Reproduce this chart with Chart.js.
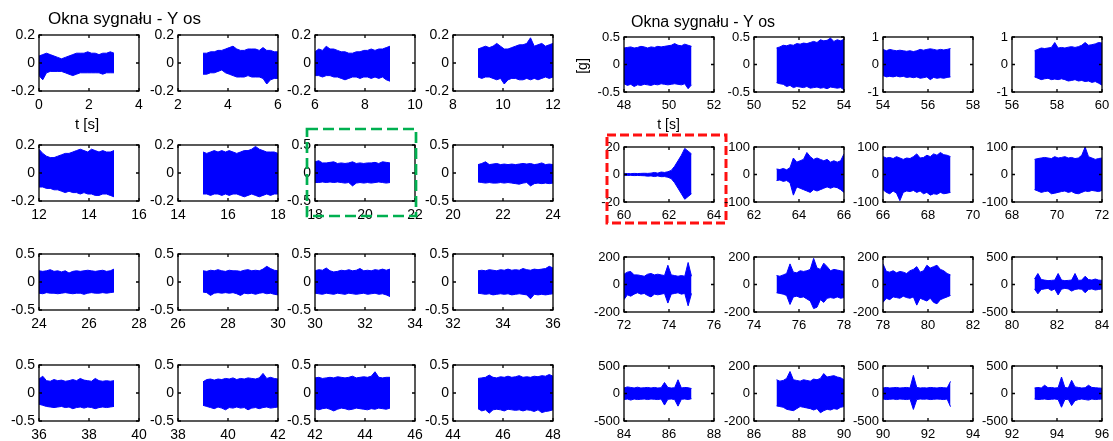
<!DOCTYPE html>
<html lang="pl">
<head>
<meta charset="UTF-8">
<title>Okna sygnału - Y os</title>
<script src="https://cdn.jsdelivr.net/npm/chart.js@4.4.1/dist/chart.umd.min.js"></script>
<style>
  body { margin: 0; background: #fff; }
  #wrap { position: relative; width: 1113px; height: 441px; overflow: hidden; }
  #wrap canvas { position: absolute; }
</style>
</head>
<body>
<div id="wrap"></div>
<script>
// sample times inside each 3 s window [s]
var offsets = [0, 0.15, 0.3, 0.45, 0.6, 0.75, 0.9, 1.05, 1.2, 1.35, 1.5, 1.65, 1.8, 1.95, 2.1, 2.25, 2.4, 2.55, 2.7, 2.85, 3.0];
var winStart = [0, 3, 6, 9, 12, 15, 18, 21, 24, 27, 30, 33, 36, 39, 42, 45,
                48, 51, 54, 57, 60, 63, 66, 69, 72, 75, 78, 81, 84, 87, 90, 93];
// x axis start of each window plot (axis spans 4 s)
var xMin = [0, 2, 6, 8, 12, 14, 18, 20, 24, 26, 30, 32, 36, 38, 42, 44,
            48, 50, 54, 56, 60, 62, 66, 68, 72, 74, 78, 80, 84, 86, 90, 92];
// symmetric y limits [g]
var yLim = [0.2, 0.2, 0.2, 0.2, 0.2, 0.2, 0.5, 0.5, 0.5, 0.5, 0.5, 0.5, 0.5, 0.5, 0.5, 0.5,
            0.5, 0.5, 1, 1, 20, 100, 100, 100, 200, 200, 200, 500, 500, 200, 500, 500];

// envelope of the signal (upper / lower)
var up0 = [0.05,0.06,0.07,0.06,0.05,0.04,0.03,0.04,0.05,0.06,0.07,0.07,0.07,0.08,0.07,0.07,0.06,0.07,0.07,0.08,0.07];
var lo0 = [-0.09,-0.12,-0.07,-0.06,-0.06,-0.06,-0.06,-0.07,-0.08,-0.09,-0.08,-0.07,-0.07,-0.07,-0.07,-0.07,-0.07,-0.08,-0.07,-0.07,-0.07];
var up1 = [0.07,0.07,0.08,0.08,0.09,0.09,0.1,0.11,0.12,0.1,0.09,0.09,0.1,0.1,0.1,0.09,0.11,0.09,0.09,0.08,0.08];
var lo1 = [-0.08,-0.08,-0.07,-0.07,-0.06,-0.05,-0.07,-0.08,-0.09,-0.1,-0.1,-0.1,-0.09,-0.1,-0.1,-0.1,-0.11,-0.15,-0.12,-0.11,-0.11];
var up2 = [0.08,0.1,0.09,0.12,0.1,0.1,0.09,0.08,0.08,0.07,0.07,0.08,0.08,0.09,0.09,0.1,0.09,0.1,0.1,0.11,0.12];
var lo2 = [-0.09,-0.09,-0.1,-0.09,-0.09,-0.1,-0.1,-0.11,-0.12,-0.11,-0.1,-0.1,-0.11,-0.1,-0.1,-0.11,-0.1,-0.11,-0.1,-0.12,-0.13];
var up3 = [0.1,0.11,0.12,0.11,0.12,0.14,0.12,0.1,0.1,0.11,0.12,0.13,0.13,0.14,0.18,0.12,0.13,0.14,0.12,0.13,0.14];
var lo3 = [-0.1,-0.11,-0.1,-0.1,-0.11,-0.12,-0.11,-0.15,-0.12,-0.11,-0.11,-0.12,-0.12,-0.11,-0.12,-0.11,-0.12,-0.11,-0.1,-0.11,-0.1];
var up4 = [0.17,0.14,0.12,0.11,0.11,0.12,0.13,0.14,0.14,0.15,0.16,0.17,0.16,0.15,0.17,0.16,0.15,0.16,0.15,0.15,0.16];
var lo4 = [-0.1,-0.1,-0.11,-0.11,-0.12,-0.12,-0.13,-0.14,-0.13,-0.14,-0.14,-0.15,-0.14,-0.15,-0.15,-0.16,-0.16,-0.15,-0.15,-0.16,-0.17];
var up5 = [0.15,0.14,0.15,0.16,0.15,0.16,0.15,0.16,0.15,0.14,0.15,0.16,0.16,0.17,0.19,0.17,0.16,0.15,0.15,0.15,0.14];
var lo5 = [-0.15,-0.15,-0.16,-0.15,-0.15,-0.16,-0.15,-0.16,-0.15,-0.15,-0.16,-0.17,-0.16,-0.15,-0.16,-0.17,-0.16,-0.15,-0.16,-0.15,-0.15];
var up6 = [0.2,0.22,0.18,0.18,0.19,0.2,0.17,0.18,0.17,0.18,0.2,0.17,0.18,0.17,0.18,0.18,0.19,0.17,0.2,0.19,0.18];
var lo6 = [-0.17,-0.17,-0.16,-0.17,-0.16,-0.17,-0.16,-0.17,-0.18,-0.17,-0.23,-0.18,-0.17,-0.18,-0.17,-0.18,-0.17,-0.16,-0.17,-0.18,-0.17];
var up7 = [0.15,0.17,0.2,0.15,0.16,0.17,0.15,0.16,0.15,0.16,0.15,0.16,0.17,0.16,0.17,0.15,0.16,0.18,0.15,0.16,0.15];
var lo7 = [-0.16,-0.17,-0.18,-0.17,-0.18,-0.18,-0.17,-0.18,-0.17,-0.18,-0.19,-0.2,-0.18,-0.17,-0.23,-0.19,-0.18,-0.19,-0.18,-0.19,-0.18];
var up8 = [0.2,0.19,0.2,0.22,0.19,0.2,0.18,0.2,0.16,0.19,0.2,0.19,0.2,0.21,0.2,0.19,0.2,0.21,0.19,0.2,0.23];
var lo8 = [-0.2,-0.21,-0.19,-0.2,-0.2,-0.21,-0.2,-0.19,-0.2,-0.21,-0.2,-0.2,-0.22,-0.2,-0.19,-0.2,-0.2,-0.19,-0.2,-0.19,-0.18];
var up9 = [0.2,0.19,0.21,0.2,0.22,0.2,0.19,0.21,0.2,0.2,0.19,0.21,0.22,0.2,0.21,0.2,0.23,0.28,0.24,0.21,0.2];
var lo9 = [-0.18,-0.19,-0.24,-0.2,-0.19,-0.2,-0.19,-0.2,-0.19,-0.21,-0.24,-0.2,-0.21,-0.2,-0.22,-0.2,-0.19,-0.21,-0.2,-0.22,-0.23];
var up10 = [0.2,0.22,0.21,0.25,0.2,0.18,0.19,0.21,0.2,0.22,0.2,0.21,0.24,0.2,0.21,0.2,0.22,0.21,0.23,0.21,0.23];
var lo10 = [-0.2,-0.21,-0.22,-0.2,-0.21,-0.22,-0.2,-0.21,-0.22,-0.2,-0.21,-0.22,-0.21,-0.2,-0.22,-0.21,-0.2,-0.22,-0.21,-0.23,-0.26];
var up11 = [0.2,0.21,0.2,0.22,0.21,0.2,0.22,0.21,0.23,0.21,0.22,0.21,0.24,0.22,0.21,0.23,0.22,0.23,0.24,0.28,0.25];
var lo11 = [-0.2,-0.21,-0.22,-0.21,-0.23,-0.22,-0.21,-0.22,-0.21,-0.23,-0.22,-0.21,-0.22,-0.23,-0.3,-0.22,-0.23,-0.22,-0.23,-0.22,-0.21];
var up12 = [0.25,0.3,0.22,0.21,0.24,0.22,0.23,0.21,0.22,0.24,0.22,0.26,0.23,0.22,0.21,0.26,0.22,0.21,0.22,0.21,0.22];
var lo12 = [-0.2,-0.22,-0.24,-0.25,-0.26,-0.25,-0.24,-0.26,-0.25,-0.28,-0.26,-0.25,-0.27,-0.25,-0.26,-0.28,-0.26,-0.25,-0.26,-0.25,-0.24];
var up13 = [0.2,0.24,0.25,0.23,0.25,0.24,0.26,0.25,0.27,0.24,0.26,0.25,0.27,0.26,0.25,0.27,0.35,0.26,0.28,0.26,0.25];
var lo13 = [-0.22,-0.24,-0.26,-0.28,-0.25,-0.27,-0.3,-0.26,-0.27,-0.25,-0.27,-0.26,-0.3,-0.27,-0.26,-0.28,-0.26,-0.25,-0.27,-0.26,-0.25];
var up14 = [0.27,0.28,0.26,0.27,0.28,0.27,0.29,0.28,0.27,0.28,0.3,0.27,0.28,0.29,0.28,0.3,0.38,0.28,0.27,0.28,0.28];
var lo14 = [-0.28,-0.3,-0.28,-0.27,-0.29,-0.32,-0.29,-0.27,-0.28,-0.3,-0.29,-0.27,-0.28,-0.29,-0.3,-0.28,-0.29,-0.27,-0.28,-0.29,-0.27];
var up15 = [0.26,0.27,0.28,0.32,0.28,0.27,0.29,0.28,0.3,0.28,0.29,0.31,0.28,0.29,0.28,0.3,0.29,0.31,0.3,0.33,0.3];
var lo15 = [-0.28,-0.32,-0.3,-0.36,-0.3,-0.29,-0.3,-0.32,-0.29,-0.3,-0.31,-0.3,-0.32,-0.3,-0.31,-0.33,-0.3,-0.35,-0.33,-0.32,-0.3];
var up16 = [0.3,0.31,0.32,0.3,0.31,0.33,0.32,0.3,0.32,0.31,0.33,0.32,0.33,0.34,0.35,0.38,0.35,0.34,0.37,0.35,0.33];
var lo16 = [-0.35,-0.38,-0.36,-0.4,-0.37,-0.38,-0.36,-0.37,-0.38,-0.36,-0.37,-0.35,-0.36,-0.37,-0.36,-0.35,-0.36,-0.37,-0.35,-0.44,-0.37];
var up17 = [0.3,0.32,0.35,0.34,0.36,0.35,0.38,0.37,0.39,0.38,0.4,0.42,0.4,0.45,0.43,0.44,0.48,0.42,0.45,0.43,0.46];
var lo17 = [-0.33,-0.35,-0.36,-0.4,-0.38,-0.42,-0.4,-0.41,-0.42,-0.4,-0.43,-0.42,-0.41,-0.43,-0.42,-0.44,-0.41,-0.42,-0.43,-0.42,-0.46];
var up18 = [0.55,0.5,0.55,0.52,0.5,0.52,0.5,0.48,0.5,0.47,0.5,0.55,0.52,0.55,0.57,0.55,0.52,0.55,0.53,0.55,0.58];
var lo18 = [-0.4,-0.45,-0.43,-0.45,-0.42,-0.45,-0.43,-0.47,-0.45,-0.48,-0.45,-0.5,-0.48,-0.45,-0.55,-0.47,-0.5,-0.48,-0.5,-0.47,-0.45];
var up19 = [0.5,0.55,0.6,0.58,0.6,0.62,0.8,0.6,0.62,0.6,0.63,0.65,0.62,0.65,0.7,0.8,0.7,0.72,0.75,0.8,0.78];
var lo19 = [-0.45,-0.5,-0.55,-0.52,-0.5,-0.55,-0.53,-0.55,-0.52,-0.55,-0.6,-0.58,-0.55,-0.6,-0.58,-0.62,-0.6,-0.65,-0.62,-0.68,-0.75];
var up20 = [0.6,0.7,0.6,0.8,0.7,0.8,0.9,0.8,1.0,1.5,1.0,1.8,1.5,2.0,3,6,10,14,19,17,15];
var lo20 = [-0.6,-0.7,-0.6,-0.8,-0.7,-0.8,-0.9,-1.2,-1.0,-1.5,-1.0,-1.6,-1.5,-2.0,-3,-6,-10,-14,-18,-16,-14];
var up21 = [20,18,22,17,25,60,45,50,55,80,65,55,60,55,50,55,45,50,45,50,75];
var lo21 = [-22,-20,-25,-22,-30,-75,-45,-50,-55,-60,-65,-55,-60,-55,-50,-45,-50,-45,-48,-55,-65];
var up22 = [65,60,62,58,65,60,55,60,58,65,75,60,62,70,65,75,70,80,72,70,65];
var lo22 = [-55,-65,-70,-60,-68,-95,-65,-60,-62,-58,-65,-60,-70,-65,-75,-70,-72,-65,-70,-68,-65];
var up23 = [55,58,60,62,60,58,65,60,62,65,60,62,58,60,70,100,65,60,55,58,60];
var lo23 = [-55,-60,-65,-62,-60,-70,-68,-65,-62,-60,-65,-62,-68,-70,-65,-60,-62,-58,-60,-62,-58];
var up24 = [75,90,95,70,70,65,60,75,80,70,75,70,65,140,70,65,60,65,60,160,60];
var lo24 = [-110,-75,-85,-70,-60,-70,-65,-80,-90,-70,-75,-70,-65,-135,-70,-65,-60,-70,-65,-155,-65];
var up25 = [65,60,70,80,150,90,85,100,95,100,110,190,120,110,155,130,100,110,105,100,95];
var lo25 = [-60,-65,-70,-80,-145,-90,-85,-95,-90,-105,-120,-175,-165,-110,-130,-100,-95,-100,-90,-100,-95];
var up26 = [150,95,90,100,85,95,90,80,100,110,130,90,100,140,120,130,140,110,100,80,70];
var lo26 = [-130,-100,-110,-90,-95,-100,-85,-95,-100,-90,-150,-100,-110,-120,-100,-130,-140,-110,-100,-90,-80];
var up27 = [100,200,90,80,70,75,80,200,80,70,75,80,200,75,80,150,90,80,100,80,75];
var lo27 = [-80,-170,-90,-80,-70,-110,-80,-190,-85,-70,-80,-120,-90,-80,-85,-150,-90,-80,-100,-90,-80];
var up28 = [100,120,110,100,115,100,105,110,100,110,100,105,200,110,100,105,250,100,110,105,90];
var lo28 = [-110,-100,-120,-100,-110,-105,-100,-110,-100,-105,-110,-100,-210,-105,-100,-110,-230,-105,-100,-110,-95];
var up29 = [100,90,95,110,160,100,95,90,100,95,90,105,100,110,145,120,125,130,120,115,100];
var lo29 = [-90,-95,-100,-115,-120,-125,-110,-95,-100,-105,-110,-120,-110,-140,-125,-115,-120,-110,-115,-100,-95];
var up30 = [100,110,100,105,110,100,105,110,100,330,110,100,105,100,110,105,100,110,105,100,220];
var lo30 = [-100,-110,-105,-100,-110,-100,-105,-110,-100,-290,-110,-100,-105,-100,-110,-105,-100,-105,-110,-100,-240];
var up31 = [100,110,100,150,105,110,100,105,300,110,100,240,120,110,100,105,150,110,105,100,95];
var lo31 = [-100,-110,-105,-100,-110,-105,-100,-110,-250,-110,-105,-220,-130,-110,-100,-110,-120,-100,-110,-105,-100];

var uppers = [up0,up1,up2,up3,up4,up5,up6,up7,up8,up9,up10,up11,up12,up13,up14,up15,
              up16,up17,up18,up19,up20,up21,up22,up23,up24,up25,up26,up27,up28,up29,up30,up31];
var lowers = [lo0,lo1,lo2,lo3,lo4,lo5,lo6,lo7,lo8,lo9,lo10,lo11,lo12,lo13,lo14,lo15,
              lo16,lo17,lo18,lo19,lo20,lo21,lo22,lo23,lo24,lo25,lo26,lo27,lo28,lo29,lo30,lo31];

// page layout of the axes boxes (px)
var leftCols = [39, 178, 315, 453], leftRows = [35, 145, 254, 365], leftW = 100, leftH = 56;
var rightCols = [624, 754, 883, 1012], rightRows = [37, 147, 257, 366], rightW = 90, rightH = 55;
var M = { left: 60, right: 70, top: 40, bottom: 45 };

var FONT = '"Liberation Sans", Arial, Helvetica, sans-serif';
Chart.defaults.font.family = FONT;
Chart.defaults.color = '#000';

// extra texts / marker rectangles, placed relative to the axes box
var extras = {
  0: { texts: [
        { t: 'Okna sygnału - Y os', dx: 9, dy: -11, from: 'top', size: 17, align: 'left' },
        { t: 't [s]', dx: 48, dy: 38, from: 'bottom', size: 15, align: 'center' }
      ] },
  6: { rect: { l: -8, t: -16, r: 1, b: 15, color: '#00b050', width: 2.7, dash: [11, 5] } },
  16: { texts: [
        { t: 'Okna sygnału - Y os', dx: 7, dy: -10.5, from: 'top', size: 16, align: 'left' },
        { t: 't [s]', dx: 44.5, dy: 37, from: 'bottom', size: 14, align: 'center' },
        { t: '[g]', dx: -40.5, dy: 29, from: 'top', size: 14, align: 'center', rot: true }
      ] },
  20: { rect: { l: -17, t: -12, r: 12, b: 21, color: '#ff1010', width: 3, dash: [9, 4] } }
};

var matlabBox = {
  id: 'matlabBox',
  afterDatasetsDraw: function (chart) {
    var ctx = chart.ctx, a = chart.chartArea, xs = chart.scales.x, ys = chart.scales.y;
    ctx.save();
    ctx.strokeStyle = '#000';
    ctx.lineWidth = 1.3;
    ctx.strokeRect(a.left, a.top, a.right - a.left, a.bottom - a.top);
    ctx.beginPath();
    xs.ticks.forEach(function (t) {
      var px = xs.getPixelForValue(t.value);
      ctx.moveTo(px, a.bottom); ctx.lineTo(px, a.bottom - 3);
      ctx.moveTo(px, a.top); ctx.lineTo(px, a.top + 3);
    });
    ys.ticks.forEach(function (t) {
      var py = ys.getPixelForValue(t.value);
      ctx.moveTo(a.left, py); ctx.lineTo(a.left + 3, py);
      ctx.moveTo(a.right, py); ctx.lineTo(a.right - 3, py);
    });
    ctx.stroke();

    var ex = chart.options.plugins.matlabBox;
    if (ex && ex.rect) {
      var r = ex.rect;
      ctx.strokeStyle = r.color;
      ctx.lineWidth = r.width;
      ctx.setLineDash(r.dash);
      ctx.strokeRect(a.left + r.l, a.top + r.t, (a.right + r.r) - (a.left + r.l), (a.bottom + r.b) - (a.top + r.t));
      ctx.setLineDash([]);
    }
    if (ex && ex.texts) {
      ex.texts.forEach(function (tx) {
        var x = a.left + tx.dx;
        var y = (tx.from === 'top' ? a.top : a.bottom) + tx.dy;
        ctx.fillStyle = '#000';
        ctx.font = tx.size + 'px ' + FONT;
        ctx.textAlign = tx.align;
        if (tx.rot) {
          ctx.save();
          ctx.translate(x, y);
          ctx.rotate(-Math.PI / 2);
          ctx.textBaseline = 'middle';
          ctx.fillText(tx.t, 0, 0);
          ctx.restore();
        } else {
          ctx.textBaseline = 'alphabetic';
          ctx.fillText(tx.t, x, y);
        }
      });
    }
    ctx.restore();
  }
};

// three ticks per axis: min, middle, max
function threeTicks(s) {
  var lo = s.options.min, hi = s.options.max;
  s.ticks = [{ value: lo }, { value: (lo + hi) / 2 }, { value: hi }];
}

var wrap = document.getElementById('wrap');

for (var i = 0; i < 32; i++) {
  var right = i >= 16, k = i % 16, row = Math.floor(k / 4), col = k % 4;
  var L = right ? rightCols[col] : leftCols[col];
  var T = right ? rightRows[row] : leftRows[row];
  var W = right ? rightW : leftW, H = right ? rightH : leftH;
  var fs = right ? 13 : 14;

  var cv = document.createElement('canvas');
  cv.width = W + M.left + M.right;
  cv.height = H + M.top + M.bottom;
  cv.style.left = (L - M.left) + 'px';
  cv.style.top = (T - M.top) + 'px';
  wrap.appendChild(cv);

  var ws = winStart[i];
  var upPts = offsets.map(function (o, j) { return { x: ws + o, y: uppers[i][j] }; });
  var loPts = offsets.map(function (o, j) { return { x: ws + o, y: lowers[i][j] }; });

  new Chart(cv, {
    type: 'line',
    data: {
      datasets: [
        { data: upPts, borderColor: '#0000ff', borderWidth: 1, pointRadius: 0, fill: false, tension: 0 },
        { data: loPts, borderColor: '#0000ff', backgroundColor: '#0000ff', borderWidth: 1, pointRadius: 0, fill: '-1', tension: 0 }
      ]
    },
    options: {
      responsive: false,
      animation: false,
      devicePixelRatio: 1,
      layout: { padding: { left: 0, right: M.right, top: M.top, bottom: 0 } },
      plugins: { legend: { display: false }, tooltip: { enabled: false }, matlabBox: extras[i] || {} },
      scales: {
        x: {
          type: 'linear', min: xMin[i], max: xMin[i] + 4,
          grid: { display: false, drawTicks: false }, border: { display: false },
          ticks: { maxRotation: 0, autoSkip: false, padding: 6, font: { size: fs } },
          afterBuildTicks: threeTicks,
          afterFit: function (s) { s.height = M.bottom; }
        },
        y: {
          type: 'linear', min: -yLim[i], max: yLim[i],
          grid: { display: false, drawTicks: false }, border: { display: false },
          ticks: { autoSkip: false, padding: 4, font: { size: fs } },
          afterBuildTicks: threeTicks,
          afterFit: function (s) { s.width = M.left; }
        }
      }
    },
    plugins: [matlabBox]
  });
}
</script>
</body>
</html>
